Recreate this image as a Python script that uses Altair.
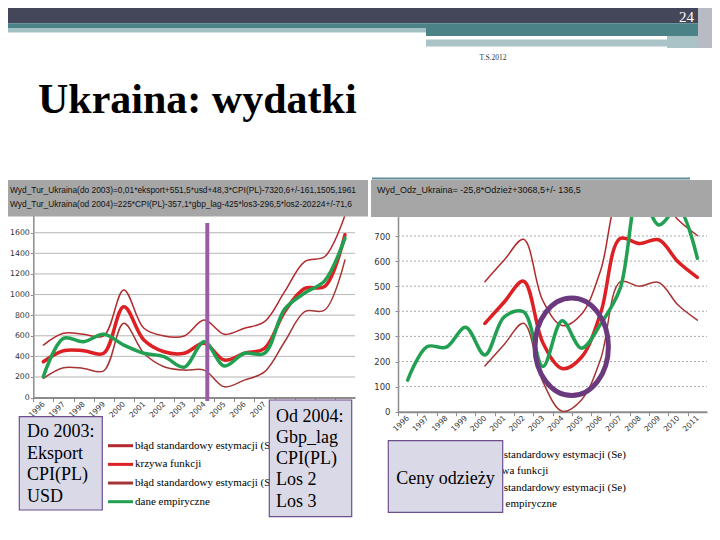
import altair as alt
import pandas as pd

# ---------------- data ----------------
years = [str(y) for y in range(1996, 2012)]
years_fit_R = [str(y) for y in range(2000, 2012)]

# left chart (Wyd_Tur_Ukraina)
emp_L = [204, 575, 542, 614, 510, 430, 397, 295, 542, 306, 430, 430, 858, 1015, 1135, 1547]
fit_L = [348, 455, 455, 430, 882, 559, 445, 430, 527, 364, 430, 478, 834, 1060, 1080, 1580]
up_L = [510, 624, 614, 598, 1045, 673, 598, 598, 753, 614, 673, 737, 1028, 1320, 1369, 1770]
lo_L = [187, 290, 283, 260, 721, 430, 300, 267, 267, 105, 170, 250, 542, 834, 850, 1336]

# right chart (Wyd_Odz_Ukraina)
emp_R = [126, 259, 257, 336, 226, 378, 398, 180, 362, 253, 350, 490, 880, 744, 810, 611]
fit_R = [352, 437, 520, 275, 172, 217, 395, 690, 670, 685, 597, 535]
up_R = [518, 604, 687, 442, 343, 388, 565, 858, 838, 853, 765, 702]
lo_R = [182, 268, 352, 120, 2, 47, 212, 517, 500, 515, 425, 365]

ticks_L = list(range(0, 2000, 200))
ticks_R = list(range(0, 900, 100))

legend_labels = ["błąd standardowy estymacji (Se)", "krzywa funkcji",
                 "błąd standardowy estymacji (Se)", "dane empiryczne"]

box_left_lines = ["Do 2003:", "Eksport", "CPI(PL)", "USD"]
box_mid_lines = ["Od 2004:", "Gbp_lag", "CPI(PL)", "Los 2", "Los 3"]
box_right_text = "Ceny odzieży"
formula_L1 = "Wyd_Tur_Ukraina(do 2003)=0,01*eksport+551,5*usd+48,3*CPI(PL)-7320,6+/-161,1505,1961"
formula_L2 = "Wyd_Tur_Ukraina(od 2004)=225*CPI(PL)-357,1*gbp_lag-425*los3-296,5*los2-20224+/-71,6"
formula_R = "Wyd_Odz_Ukraina= -25,8*Odzież+3068,5+/- 136,5"
title_text = "Ukraina: wydatki"
page_no = "24"
footer = "T.S.2012"

# ---------------- styles ----------------
GREEN = "#22a052"
RED = "#dd2024"
UPC = "#b3292d"
LOC = "#a53434"
legend_colors = [UPC, RED, LOC, GREEN]
AXC = "#8c8c8c"
W, H = 704, 524
ONE = pd.DataFrame({"k": [0]})


def C(v):
    return v - 8


def box(x0, y0, x1, y1, fill, stroke=None, sw=0):
    kw = dict(fill=fill)
    if stroke:
        kw.update(stroke=stroke, strokeWidth=sw)
    else:
        kw.update(strokeWidth=0)
    return alt.Chart(ONE).mark_rect(**kw).encode(
        x=alt.value(C(x0)), x2=alt.value(C(x1)), y=alt.value(C(y0)), y2=alt.value(C(y1)))


def txt(text, x, y, size, font="Liberation Serif", weight="normal", color="#000",
        align="left", baseline="alphabetic", lh=None):
    kw = dict(font=font, fontSize=size, fontWeight=weight, color=color, align=align, baseline=baseline)
    if lh:
        kw["lineHeight"] = lh
    return alt.Chart(ONE).mark_text(**kw).encode(
        x=alt.value(C(x)), y=alt.value(C(y)), text=alt.value(text))


def make_panel(x0, x1, y0, y1, ymax, ticks, emp, fit, up, lo, fit_years, grid_dash, ylab_size, ylab_pad):
    band = (x1 - x0) / len(years)
    xs = alt.Scale(type="point", domain=years, range=[C(x0), C(x1)], padding=0.5)
    ys = alt.Scale(domain=[0, ymax], range=[C(y0), C(y1)], nice=False, zero=False)
    xa = alt.Axis(orient="bottom", offset=C(y0) - H, title=None, grid=False, labelAngle=-45,
                  labelAlign="right", labelBaseline="middle", labelFont="DejaVu Sans",
                  labelFontSize=7.5, labelColor="#333", labelPadding=1, tickSize=4,
                  tickColor=AXC, domainColor=AXC, domainWidth=2, tickOffset=-band / 2,
                  labelOffset=band / 2, labelOverlap=False)
    ya = alt.Axis(orient="left", offset=-C(x0), values=ticks, format="d", title=None, grid=False,
                  labelFont="DejaVu Sans", labelFontSize=ylab_size, labelColor="#333", tickSize=3,
                  tickColor=AXC, domainColor=AXC, domainWidth=1.5, labelPadding=ylab_pad)
    grid = alt.Chart(pd.DataFrame({"v": ticks[1:]})).mark_rule(
        color="#a9a9a9", strokeWidth=1, strokeDash=grid_dash).encode(
        y=alt.Y("v:Q", scale=ys, axis=ya), x=alt.value(C(x0)), x2=alt.value(C(x1)))

    def line(xl, vals, color, width):
        df = pd.DataFrame({"year": xl, "v": vals})
        return alt.Chart(df).mark_line(interpolate="catmull-rom", color=color,
                                       strokeWidth=width, strokeCap="round").encode(
            x=alt.X("year:O", scale=xs, axis=xa), y=alt.Y("v:Q", scale=ys, axis=ya))

    return alt.layer(grid, line(fit_years, lo, LOC, 1.5), line(fit_years, up, UPC, 1.5),
                     line(fit_years, fit, RED, 3.5), line(years, emp, GREEN, 3.5))


def legend(xl0, xl1, xt, yr0, yr1):
    df = pd.DataFrame({"r": [0, 1, 2, 3], "label": legend_labels, "color": legend_colors})
    ys = alt.Scale(type="point", domain=[0, 1, 2, 3], range=[C(yr0), C(yr1)], padding=0)
    rules = alt.Chart(df).mark_rule(strokeWidth=3).encode(
        y=alt.Y("r:O", scale=ys, axis=None), x=alt.value(C(xl0)), x2=alt.value(C(xl1)),
        color=alt.Color("color:N", scale=None))
    texts = alt.Chart(df).mark_text(align="left", baseline="middle", font="Liberation Serif",
                                    fontSize=11, color="#000").encode(
        y=alt.Y("r:O", scale=ys, axis=None), x=alt.value(C(xt)), text="label:N")
    return alt.layer(rules, texts)


# ---------------- header ----------------
header = [
    box(0, 0, 698, 23.3, "#44465a"),
    box(0, 23.3, 698, 28, "#4a8288"),
    box(0, 28, 426, 32.5, "#a2c0c3"),
    box(426, 28, 698, 36, "#4a8288"),
    box(426, 39.5, 667, 46.5, "#a9c3c6"),
    box(667, 36, 698, 48, "#a9c3c6"),
    box(698, 0, 712, 48, "#b8bbc3"),
    box(712, 0, 720, 48, "#d8dbe0"),
    txt(page_no, 686.5, 22, 15, color="white", align="center"),
    txt(footer, 493, 60, 7.5, color="#333", align="center"),
    txt(title_text, 38, 113, 42, weight="bold"),
]

left = make_panel(33.3, 355.0, 397.6, 212.1, 1800, ticks_L, emp_L, fit_L, up_L, lo_L, years,
                  [1, 0], 7.8, 1)
right = make_panel(398.0, 707.0, 411.7, 210.9, 800, ticks_R, emp_R, fit_R, up_R, lo_R, years_fit_R,
                   [2, 2], 8.5, 5)

purple = alt.Chart(ONE).mark_rule(color="#9a5ca6", strokeWidth=4).encode(
    x=alt.value(C(207.3)), y=alt.value(C(223)), y2=alt.value(C(401)))

ELLIPSE = "M -0.752 0 A 0.752 1 0 1 0 0.752 0 A 0.752 1 0 1 0 -0.752 0 Z"
ellipse = alt.Chart(ONE).mark_point(shape=ELLIPSE, filled=False, color="#6b3a7e",
                                    strokeWidth=5, size=9526, opacity=1).encode(
    x=alt.value(C(571.7)), y=alt.value(C(346.7)))

formula = [
    alt.Chart(ONE).mark_rule(color="#5f8b99", strokeWidth=2).encode(
        x=alt.value(C(372)), x2=alt.value(C(690)), y=alt.value(C(178.5))),
    box(0, 180, 368, 216.5, "#a6a6a6"),
    box(371, 180, 720, 217, "#a6a6a6"),
    txt(formula_L1, 10, 190, 8.4, font="Liberation Sans", color="#111", baseline="middle"),
    txt(formula_L2, 10, 204, 8.4, font="Liberation Sans", color="#111", baseline="middle"),
    txt(formula_R, 377, 190, 9, font="Liberation Sans", color="#111", baseline="middle"),
]

legends = [legend(108, 133, 135, 445.7, 501.7), legend(455, 480, 482, 455, 504.3)]

BOXF, BOXS = "#dad9e7", "#6e4f8e"
boxes = [
    box(19.3, 416.7, 102.3, 510, BOXF, BOXS, 1.2),
    txt(box_left_lines, 27, 437, 18, lh=21.6),
    box(269.3, 400, 351.7, 516.7, BOXF, BOXS, 1.2),
    txt(box_mid_lines, 276, 421.5, 18, lh=21.3),
    box(388.3, 440.7, 502.7, 512.3, BOXF, BOXS, 1.2),
    txt(box_right_text, 445.5, 483.5, 18, align="center"),
]

chart = alt.layer(*header, left, purple, right, ellipse, *formula, *legends, *boxes).resolve_scale(
    x="independent", y="independent").properties(
    width=W, height=H, autosize=alt.AutoSizeParams(type="none"), padding=0
).configure_view(stroke=None)

chart.save("out.html", embed_options={"renderer": "svg", "actions": False})
